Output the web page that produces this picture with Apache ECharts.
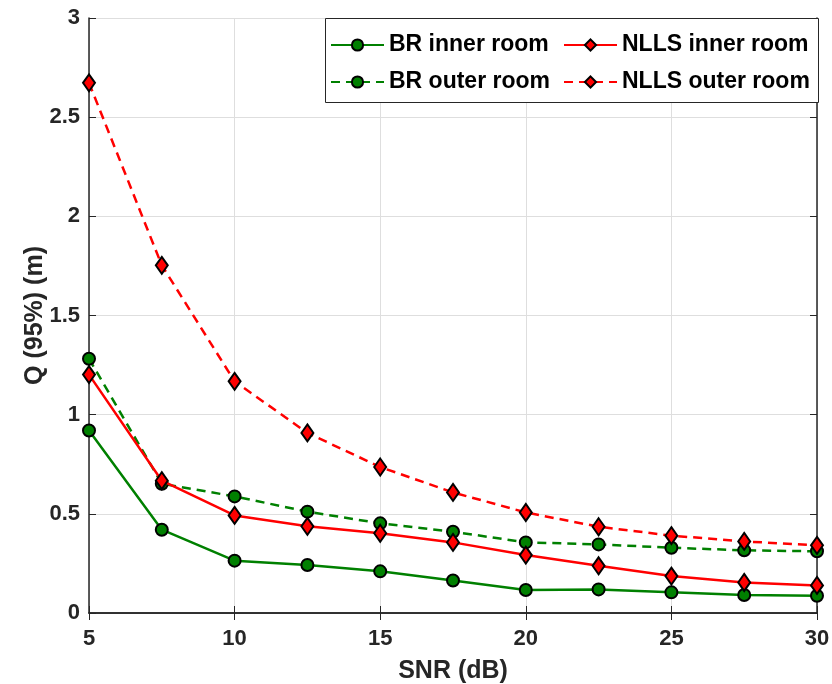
<!DOCTYPE html>
<html><head><meta charset="utf-8">
<script src="https://cdn.jsdelivr.net/npm/echarts@6/dist/echarts.min.js"></script>
<style>html,body{margin:0;padding:0;background:#fff}#c{width:832px;height:684px}</style>
</head><body><div id="c"></div>
<script>
const snr = [5, 7.5, 10, 12.5, 15, 17.5, 20, 22.5, 25, 27.5, 30];
const brInner   = [0.92, 0.42, 0.264, 0.242, 0.21, 0.164, 0.116, 0.119, 0.104, 0.091, 0.087];
const brOuter   = [1.282, 0.652, 0.588, 0.511, 0.452, 0.41, 0.356, 0.346, 0.329, 0.316, 0.311];
const nllsInner = [1.202, 0.667, 0.492, 0.437, 0.402, 0.356, 0.292, 0.238, 0.186, 0.154, 0.139];
const nllsOuter = [2.673, 1.753, 1.168, 0.908, 0.736, 0.608, 0.507, 0.435, 0.39, 0.361, 0.341];
const seriesNames = ['BR inner room', 'NLLS inner room', 'BR outer room', 'NLLS outer room'];
const xTicks = [5, 10, 15, 20, 25, 30];
const yTicks = [0, 0.5, 1, 1.5, 2, 2.5, 3];

const FONT = '"Liberation Sans", Arial, sans-serif';
const TXT = '#262626';
const GREEN = '#008000', RED = '#ff0000';

function pairs(ys){ return snr.map((x,i)=>[x, ys[i]]); }
function mk(name, ys, color, dashed, diamond){
  return {
    name, type:'line', data: pairs(ys),
    symbol: diamond ? 'diamond' : 'circle',
    symbolSize: diamond ? [12,17] : 12,
    lineStyle:{color, width:2.5, type: dashed ? [9,6] : 'solid'},
    itemStyle:{color, borderColor:'#000', borderWidth:2},
    z: diamond ? 3 : 2
  };
}
const legendText = {fontFamily:FONT, fontWeight:'bold', fontSize:23, color:'#000', lineHeight:24};
const nameStyle = {fontFamily:FONT, fontWeight:'bold', fontSize:25, color:TXT};
const tickStyle = {fontFamily:FONT, fontWeight:'bold', fontSize:22, color:TXT};
const chart = echarts.init(document.getElementById('c'));
chart.setOption({
  animation:false,
  backgroundColor:'#fff',
  grid:{left:89, right:15, top:18, bottom:71, containLabel:false, outerBoundsMode:'none'},
  xAxis:[{
    type:'value', min:5, max:30, interval:5,
    name:'SNR (dB)', nameLocation:'middle', nameGap:46, nameMoveOverlap:false,
    nameTextStyle:nameStyle,
    axisLine:{lineStyle:{color:TXT, width:1.5}},
    axisTick:{inside:true, length:7, lineStyle:{color:TXT}},
    axisLabel:Object.assign({margin:15, formatter:v=>xTicks.includes(v)?String(v):''}, tickStyle),
    splitLine:{show:true, lineStyle:{color:'#dedede', width:1}}
  },{
    type:'value', position:'top', min:5, max:30, interval:5,
    axisLine:{show:true, lineStyle:{color:TXT, width:1.5}},
    axisTick:{show:true, inside:true, length:7, lineStyle:{color:TXT}},
    axisLabel:{show:false}, splitLine:{show:false}
  }],
  yAxis:[{
    type:'value', min:0, max:3, interval:0.5,
    name:'Q (95%) (m)', nameLocation:'middle', nameGap:41, nameMoveOverlap:false,
    nameTextStyle:nameStyle,
    axisLine:{show:true, lineStyle:{color:TXT, width:1.5}},
    axisTick:{show:true, inside:true, length:7, lineStyle:{color:TXT}},
    axisLabel:Object.assign({margin:9, formatter:v=>yTicks.includes(v)?String(v):''}, tickStyle),
    splitLine:{show:true, lineStyle:{color:'#dedede', width:1}}
  },{
    type:'value', position:'right', min:0, max:3, interval:0.5,
    axisLine:{show:true, lineStyle:{color:TXT, width:1.5}},
    axisTick:{show:true, inside:true, length:7, lineStyle:{color:TXT}},
    axisLabel:{show:false}, splitLine:{show:false}
  }],
  graphic:[{type:'rect', left:325, top:18, shape:{width:493, height:84},
    style:{fill:'#fff', stroke:'#262626', lineWidth:1}, z:50}],
  legend:[{
    orient:'vertical', left:330, top:33, padding:0, itemWidth:53, itemHeight:14, itemGap:13,
    data:[seriesNames[0], seriesNames[2]], textStyle:legendText, z:60
  },{
    orient:'vertical', left:563, top:33, padding:0, itemWidth:53, itemHeight:14, itemGap:13,
    data:[seriesNames[1], seriesNames[3]], textStyle:legendText, z:60
  }],
  series:[
    mk(seriesNames[0], brInner, GREEN, false, false),
    mk(seriesNames[1], nllsInner, RED, false, true),
    mk(seriesNames[2], brOuter, GREEN, true, false),
    mk(seriesNames[3], nllsOuter, RED, true, true)
  ]
});
</script></body></html>
